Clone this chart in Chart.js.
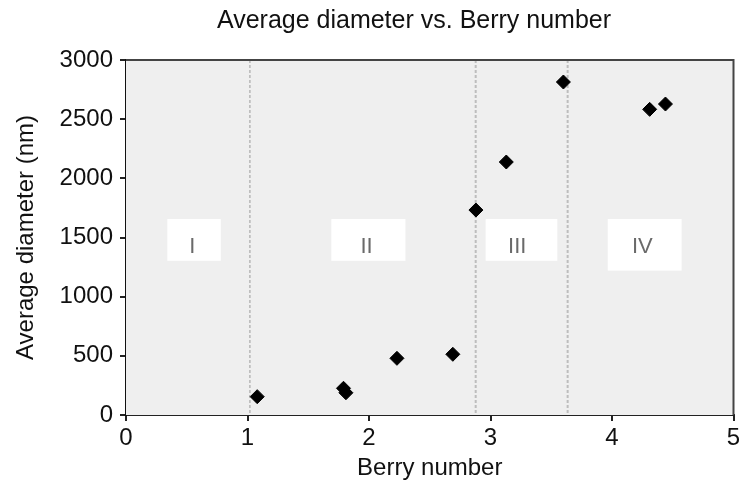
<!DOCTYPE html>
<html>
<head>
<meta charset="utf-8">
<script src="https://cdn.jsdelivr.net/npm/chart.js@4"></script>
<style>
  body { margin: 0; background: #fff; }
  #wrap { width: 739px; height: 483px; position: relative; }
</style>
</head>
<body>
<div id="wrap"><canvas id="chart"></canvas></div>
<script>
// data
const berryNumber = [1.08, 1.79, 1.81, 2.23, 2.69, 2.88, 3.13, 3.60, 4.31, 4.44];
const avgDiameter = [155, 226, 188, 479, 513, 1732, 2138, 2814, 2583, 2628];
const xTicks = [0, 1, 2, 3, 4, 5];
const yTicks = [0, 500, 1000, 1500, 2000, 2500, 3000];

// regime boundaries (dashed lines) and regime label boxes
const boundaries = [1.02, 2.878, 3.635];
const regionNames = ['I', 'II', 'III', 'IV'];
const regionX0 = [0.34, 1.69, 2.96, 3.965];
const regionX1 = [0.78, 2.30, 3.55, 4.573];
const regionYTop = [1656, 1656, 1656, 1656];
const regionYBottom = [1303, 1303, 1303, 1220];
const regionLabelX = [0.545, 1.98, 3.22, 4.25];
const regionLabelY = 1420;

const chartTitle = 'Average diameter vs. Berry number';
const FONT = '"Liberation Sans", Arial, Helvetica, sans-serif';

const decorations = {
    id: 'decorations',
    beforeDatasetsDraw(chart) {
        const ctx = chart.ctx;
        const area = chart.chartArea;
        const xs = chart.scales.x;
        const ys = chart.scales.y;
        ctx.save();
        ctx.fillStyle = '#efefef';
        ctx.fillRect(area.left, area.top, area.right - area.left, area.bottom - area.top);

        // dashed boundaries
        boundaries.forEach((b, i) => {
            const px = xs.getPixelForValue(b);
            ctx.beginPath();
            ctx.strokeStyle = i === 0 ? '#9a9a9a' : '#bdbdbd';
            ctx.lineWidth = i === 0 ? 1 : 2;
            ctx.setLineDash([3, 2]);
            ctx.moveTo(px, area.top);
            ctx.lineTo(px, area.bottom);
            ctx.stroke();
        });
        ctx.setLineDash([]);

        // label boxes
        regionNames.forEach((name, i) => {
            const x0 = xs.getPixelForValue(regionX0[i]);
            const x1 = xs.getPixelForValue(regionX1[i]);
            const y0 = ys.getPixelForValue(regionYTop[i]);
            const y1 = ys.getPixelForValue(regionYBottom[i]);
            ctx.fillStyle = '#ffffff';
            ctx.fillRect(x0, y0, x1 - x0, y1 - y0);
            ctx.fillStyle = '#6a6a6a';
            ctx.font = '22px ' + FONT;
            ctx.textAlign = 'center';
            ctx.textBaseline = 'middle';
            ctx.fillText(name, xs.getPixelForValue(regionLabelX[i]), ys.getPixelForValue(regionLabelY));
        });
        ctx.restore();
    },
    afterDraw(chart) {
        const ctx = chart.ctx;
        const area = chart.chartArea;
        ctx.save();
        // top and right frame
        ctx.strokeStyle = '#444';
        ctx.lineWidth = 2;
        ctx.beginPath();
        ctx.moveTo(area.left, area.top);
        ctx.lineTo(area.right, area.top);
        ctx.lineTo(area.right, area.bottom);
        ctx.stroke();
        // title
        ctx.fillStyle = '#111';
        ctx.font = '25px ' + FONT;
        ctx.textAlign = 'center';
        ctx.textBaseline = 'middle';
        ctx.fillText(chartTitle, 414, 21);
        ctx.restore();
    }
};

new Chart(document.getElementById('chart'), {
    type: 'scatter',
    data: {
        datasets: [{
            label: 'Average diameter',
            data: berryNumber.map((x, i) => ({ x: x, y: avgDiameter[i] })),
            pointStyle: 'rectRot',
            pointRadius: 7,
            pointHoverRadius: 7,
            backgroundColor: '#000',
            borderColor: '#000',
            borderWidth: 1
        }]
    },
    options: {
        responsive: true,
        maintainAspectRatio: false,
        animation: false,
        layout: { autoPadding: false, padding: { top: 60, right: 5.5, left: 0, bottom: 0 } },
        plugins: {
            legend: { display: false },
            tooltip: { enabled: false },
            title: { display: false }
        },
        scales: {
            x: {
                type: 'linear',
                min: 0,
                max: 5,
                afterBuildTicks: (scale) => { scale.ticks = xTicks.map(v => ({ value: v })); },
                afterFit: (scale) => {
                    scale.height = 68;
                    scale.paddingLeft = 0;
                    scale.paddingRight = 0;
                },
                grid: { drawOnChartArea: false, drawTicks: true, tickLength: 6, color: '#222', lineWidth: 2 },
                border: { display: true, color: '#222', width: 2 },
                ticks: { color: '#111', font: { family: FONT, size: 24 }, padding: 3, maxRotation: 0, callback: v => String(v) },
                title: { display: true, text: 'Berry number', color: '#111', font: { family: FONT, size: 24 }, padding: { top: 0, bottom: 0 } }
            },
            y: {
                type: 'linear',
                min: 0,
                max: 3000,
                afterBuildTicks: (scale) => { scale.ticks = yTicks.map(v => ({ value: v })); },
                afterFit: (scale) => {
                    scale.width = 126;
                    scale.paddingTop = 0;
                    scale.paddingBottom = 0;
                },
                grid: { drawOnChartArea: false, drawTicks: true, tickLength: 6, color: '#222', lineWidth: 2 },
                border: { display: true, color: '#111', width: 2 },
                ticks: { color: '#111', font: { family: FONT, size: 24 }, padding: 7, callback: v => String(v) },
                title: { display: true, text: 'Average diameter (nm)', color: '#111', font: { family: FONT, size: 24 }, padding: { top: 12, bottom: 0 } }
            }
        }
    },
    plugins: [decorations]
});
</script>
</body>
</html>
